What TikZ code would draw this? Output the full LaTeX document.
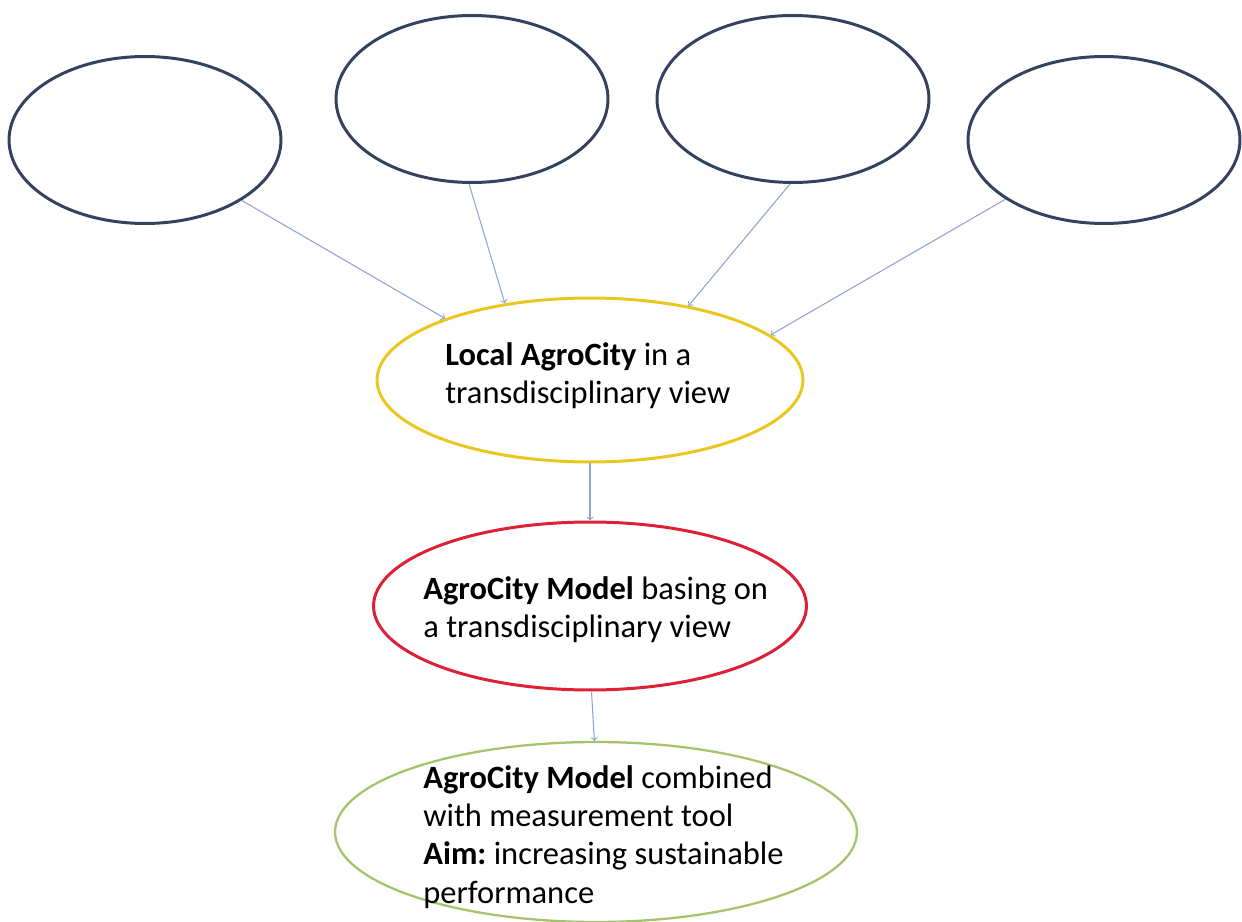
\documentclass[tikz,border=0pt]{standalone}
\usepackage{fontspec}
\setmainfont{Carlito}
\usetikzlibrary{shapes.geometric}
\definecolor{ringblue}{HTML}{34425F}
\definecolor{ringyellow}{HTML}{E9C71F}
\definecolor{ringred}{HTML}{DC2035}
\definecolor{ringgreen}{HTML}{A3C46A}
\definecolor{linkblue}{HTML}{8EA3D0}
\tikzstyle{topic} = [draw=ringblue, ellipse, line width=1.7pt,
    minimum width=5.44cm, minimum height=3.34cm, inner sep=0pt]
\tikzstyle{stage} = [ellipse, line width=1.7pt, inner sep=0pt]
\tikzstyle{caption} = [anchor=west, align=left, inner sep=0pt,
    font=\fontsize{18.5}{21.8}\selectfont\frenchspacing]
\tikzstyle{link} = [draw=linkblue, line width=0.6pt, ->]

\begin{document}
\begin{tikzpicture}[x=0.02cm, y=-0.02cm]
    \useasboundingbox (0,0) rectangle (1242,922);
    % four open topics on top
    \node [topic] (topicA) at (145,140) {};
    \node [topic] (topicB) at (472,99) {};
    \node [topic] (topicC) at (793,99) {};
    \node [topic] (topicD) at (1104,140) {};
    % the three stages
    \node [stage, draw=ringyellow, minimum width=8.52cm, minimum height=3.28cm] (local) at (590,380) {};
    \node [stage, draw=ringred, minimum width=8.66cm, minimum height=3.36cm] (model) at (590,606) {};
    \node [stage, draw=ringgreen, line width=1.3pt, minimum width=10.44cm, minimum height=3.6cm] (measure) at (596,832) {};
    \node [caption] (localtxt) at (445,376) {\textbf{Local AgroCity} in a\\transdisciplinary view};
    \node [caption] (modeltxt) at (423,610) {\textbf{AgroCity Model} basing on\\a transdisciplinary view};
    \node [caption] (measuretxt) at (423,837) {\textbf{AgroCity Model} combined\\with measurement tool\\\textbf{Aim:} increasing sustainable\\performance};
    \draw [link] (topicA.-32) -- (local.157);
    \draw [link] (topicB.-92) -- (local.138);
    \draw [link] (topicC.-92) -- (local.37);
    \draw [link] (topicD.211) -- (local.14);
    \draw [link] (local.south) -- (model.north);
    \draw [link] (model.-89) -- (measure.91);
\end{tikzpicture}
\end{document}
